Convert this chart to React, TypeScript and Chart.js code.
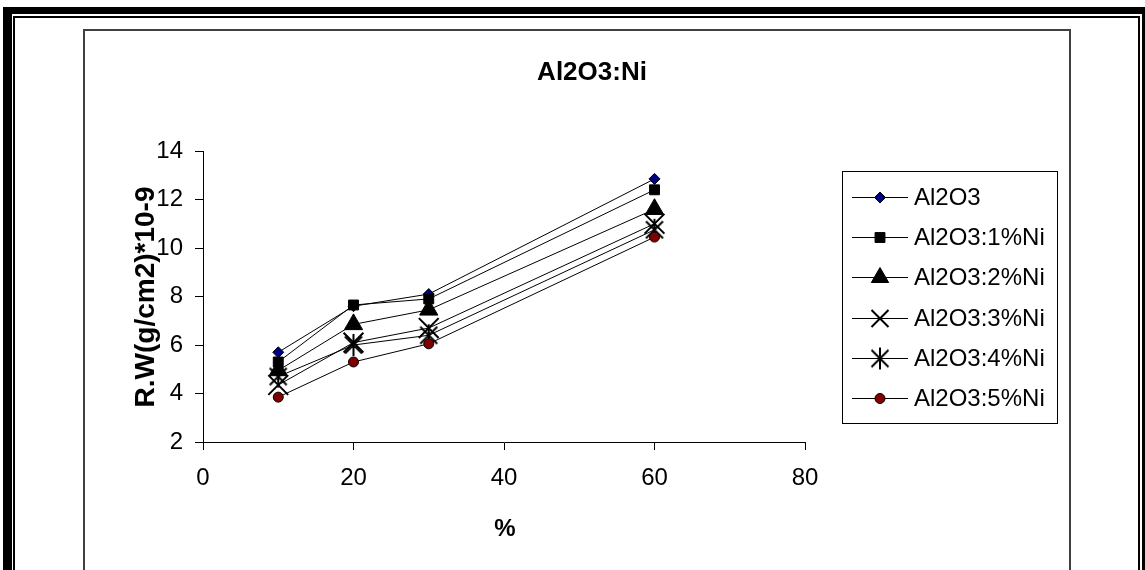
import React, { useEffect, useRef } from "react";
import { Chart, registerables } from "chart.js";
import { drawPoint } from "chart.js/helpers";

Chart.register(...registerables);

// ---------- data ----------
const xValues = [10, 20, 30, 60];
const seriesLabels = ["Al2O3", "Al2O3:1%Ni", "Al2O3:2%Ni", "Al2O3:3%Ni", "Al2O3:4%Ni", "Al2O3:5%Ni"];
const seriesAl2O3 = [5.7, 7.6, 8.1, 12.85];
const seriesNi1 = [5.3, 7.65, 7.9, 12.4];
const seriesNi2 = [4.95, 6.85, 7.45, 11.6];
const seriesNi3 = [4.35, 6.1, 6.7, 11.0];
const seriesNi4 = [4.7, 6.0, 6.4, 10.75];
const seriesNi5 = [3.85, 5.3, 6.05, 10.45];
const yTicks = [2, 4, 6, 8, 10, 12, 14];
const xTicks = [0, 20, 40, 60, 80];
const chartTitle = "Al2O3:Ni";
const yTitle = "R.W(g/cm2)*10-9";
const xTitle = "%";

const FONT = 'Arial, "Liberation Sans", sans-serif';

function makeAsterisk(): HTMLCanvasElement {
  const c = document.createElement("canvas");
  c.width = 26;
  c.height = 26;
  const g = c.getContext("2d")!;
  g.strokeStyle = "#000";
  g.lineWidth = 2;
  g.beginPath();
  g.moveTo(13 - 8.5, 13 - 8.5);
  g.lineTo(13 + 8.5, 13 + 8.5);
  g.moveTo(13 + 8.5, 13 - 8.5);
  g.lineTo(13 - 8.5, 13 + 8.5);
  g.moveTo(13, 13 - 11);
  g.lineTo(13, 13 + 11);
  g.stroke();
  return c;
}

export default function App() {
  const ref = useRef<HTMLCanvasElement | null>(null);

  useEffect(() => {
    const canvas = ref.current;
    if (!canvas) return;
    const asterisk = makeAsterisk();

    const styles: any[] = [
      { pointStyle: "rectRot", radius: 5.5, bg: "#000080", border: "#000", bw: 1 },
      { pointStyle: "rect", radius: 7, bg: "#000", border: "#000", bw: 1 },
      { pointStyle: "triangle", radius: 10.5, bg: "#000", border: "#000", bw: 1 },
      { pointStyle: "crossRot", radius: 14, bg: "#000", border: "#000", bw: 2 },
      { pointStyle: asterisk, radius: 11, bg: "#000", border: "#000", bw: 2 },
      { pointStyle: "circle", radius: 5, bg: "#800000", border: "#000", bw: 1 },
    ];
    const values = [seriesAl2O3, seriesNi1, seriesNi2, seriesNi3, seriesNi4, seriesNi5];

    const datasets = values.map((vals, i) => ({
      label: seriesLabels[i],
      data: vals.map((v, j) => ({ x: xValues[j], y: v })),
      borderColor: "#000",
      borderWidth: 1,
      pointStyle: styles[i].pointStyle,
      pointRadius: styles[i].radius,
      pointBackgroundColor: styles[i].bg,
      pointBorderColor: styles[i].border,
      pointBorderWidth: styles[i].bw,
      pointHoverRadius: styles[i].radius,
      fill: false,
      tension: 0,
      order: values.length - i,
    }));

    const decor = {
      id: "decor",
      afterDraw(chart: any) {
        const ctx = chart.ctx as CanvasRenderingContext2D;
        ctx.save();
        ctx.fillStyle = "#000";
        ctx.textAlign = "center";
        ctx.textBaseline = "middle";
        // title
        ctx.font = `bold 26px ${FONT}`;
        ctx.fillText(chartTitle, 592, 73);
        // x title
        ctx.font = `bold 24px ${FONT}`;
        ctx.fillText(xTitle, 505, 529);
        // y title
        ctx.font = `bold 28px ${FONT}`;
        ctx.save();
        ctx.translate(146, 297);
        ctx.rotate(-Math.PI / 2);
        ctx.fillText(yTitle, 0, 0);
        ctx.restore();

        // legend
        const lx = 842.5, ly = 171.5, lw = 215, lh = 252;
        ctx.strokeStyle = "#000";
        ctx.lineWidth = 1;
        ctx.strokeRect(lx, ly, lw, lh);
        ctx.font = `24px ${FONT}`;
        ctx.textAlign = "left";
        for (let i = 0; i < seriesLabels.length; i++) {
          const y = Math.round(197 + i * 40.2) + 0.5;
          ctx.strokeStyle = "#000";
          ctx.lineWidth = 1;
          ctx.beginPath();
          ctx.moveTo(852, y);
          ctx.lineTo(908, y);
          ctx.stroke();
          const s = styles[i];
          const r = i === 3 ? 12 : i === 2 ? 10 : s.radius;
          ctx.fillStyle = s.bg;
          ctx.strokeStyle = s.border;
          ctx.lineWidth = s.bw;
          drawPoint(ctx, { pointStyle: s.pointStyle, rotation: 0, radius: r, borderWidth: s.bw }, 880, y);
          ctx.fillStyle = "#000";
          ctx.fillText(seriesLabels[i], 914, y + 1);
        }
        ctx.restore();
      },
    };

    const chart = new Chart(canvas, {
      type: "line",
      data: { datasets },
      options: {
        animation: false,
        responsive: false,
        maintainAspectRatio: false,
        events: [],
        layout: { padding: { left: 0, top: 151, right: 340, bottom: 0 } },
        plugins: {
          legend: { display: false },
          title: { display: false },
          tooltip: { enabled: false },
        },
        scales: {
          x: {
            type: "linear",
            min: xTicks[0],
            max: xTicks[xTicks.length - 1],
            afterBuildTicks: (scale: any) => {
              scale.ticks = xTicks.map((v) => ({ value: v }));
            },
            afterFit: (scale: any) => {
              scale.height = 128;
            },
            grid: { display: true, drawOnChartArea: false, drawTicks: true, tickLength: 8, color: "#000", lineWidth: 1 },
            border: { display: true, color: "#000", width: 1 },
            ticks: { color: "#000", font: { family: FONT, size: 24 }, padding: 14, maxRotation: 0 },
          },
          y: {
            type: "linear",
            min: yTicks[0],
            max: yTicks[yTicks.length - 1],
            afterBuildTicks: (scale: any) => {
              scale.ticks = yTicks.map((v) => ({ value: v }));
            },
            afterFit: (scale: any) => {
              scale.width = 203;
            },
            grid: { display: true, drawOnChartArea: false, drawTicks: true, tickLength: 8, color: "#000", lineWidth: 1 },
            border: { display: true, color: "#000", width: 1 },
            ticks: { color: "#000", font: { family: FONT, size: 24 }, padding: 12 },
          },
        },
      },
      plugins: [decor],
    } as any);

    return () => chart.destroy();
  }, []);

  return (
    <div style={{ position: "absolute", left: 0, top: 0, width: 1145, height: 570, overflow: "hidden", background: "#fff" }}>
      <div
        style={{
          position: "absolute",
          left: 3,
          top: 7,
          width: 1148,
          height: 700,
          boxSizing: "border-box",
          borderStyle: "solid",
          borderColor: "#000",
          borderWidth: "7px 9px 0 9px",
        }}
      />
      <div
        style={{
          position: "absolute",
          left: 13,
          top: 16,
          width: 1127,
          height: 700,
          boxSizing: "border-box",
          border: "2px solid #000",
        }}
      />
      <div
        style={{
          position: "absolute",
          left: 83,
          top: 29,
          width: 988,
          height: 700,
          boxSizing: "border-box",
          border: "2px solid #404040",
        }}
      />
      <canvas ref={ref} width={1145} height={570} style={{ position: "absolute", left: 0, top: 0, width: 1145, height: 570 }} />
    </div>
  );
}
